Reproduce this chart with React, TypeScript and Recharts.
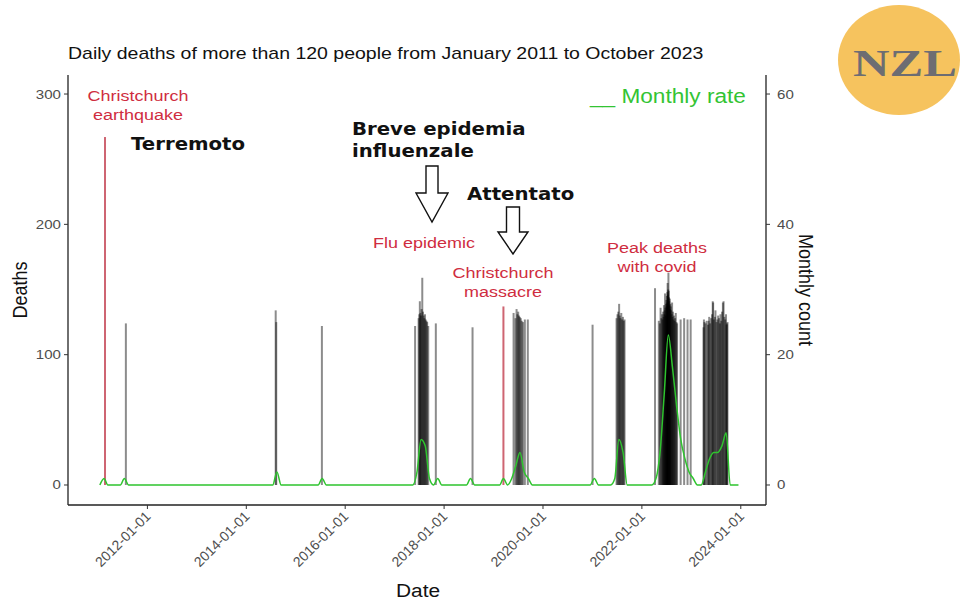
import React from 'react';
import { ComposedChart, Bar, Line, XAxis, YAxis } from 'recharts';

// days with more than 120 deaths: [date, deaths]
const dailySpikes: [string, number][] = [
  ['2011-07-26', 124],
  ['2014-08-06', 134], ['2014-08-10', 125],
  ['2015-07-13', 122],
  ['2017-06-01', 122], ['2017-06-27', 128], ['2017-07-02', 131], ['2017-07-06', 141],
  ['2017-07-10', 132], ['2017-07-14', 130], ['2017-07-19', 135], ['2017-07-24', 159],
  ['2017-07-29', 133], ['2017-08-03', 130], ['2017-08-08', 128], ['2017-08-13', 131],
  ['2017-08-18', 127], ['2017-08-24', 126], ['2017-08-29', 125], ['2017-09-06', 122],
  ['2017-11-01', 124],
  ['2018-07-30', 121],
  ['2019-05-29', 132], ['2019-06-12', 128], ['2019-06-20', 135], ['2019-06-26', 131],
  ['2019-07-02', 133], ['2019-07-08', 130], ['2019-07-14', 129], ['2019-07-21', 128],
  ['2019-07-28', 126], ['2019-08-06', 125], ['2019-08-20', 127], ['2019-09-11', 127],
  ['2021-01-02', 123],
  ['2021-06-28', 128], ['2021-07-05', 131], ['2021-07-11', 133], ['2021-07-17', 139],
  ['2021-07-22', 130], ['2021-07-27', 128], ['2021-08-02', 132], ['2021-08-08', 127],
  ['2021-08-14', 129], ['2021-08-20', 126], ['2021-08-26', 127],
  ['2022-04-08', 151], ['2022-05-06', 126], ['2022-05-14', 124], ['2022-05-19', 136],
  ['2022-05-25', 128], ['2022-05-30', 131], ['2022-06-03', 127], ['2022-06-07', 133],
  ['2022-06-10', 129], ['2022-06-13', 138], ['2022-06-16', 131], ['2022-06-19', 134],
  ['2022-06-21', 147], ['2022-06-24', 136], ['2022-06-27', 130], ['2022-06-29', 139],
  ['2022-07-01', 142], ['2022-07-03', 137], ['2022-07-05', 145], ['2022-07-07', 140],
  ['2022-07-08', 148], ['2022-07-10', 155], ['2022-07-12', 146], ['2022-07-14', 150],
  ['2022-07-16', 163], ['2022-07-18', 149], ['2022-07-20', 144], ['2022-07-22', 141],
  ['2022-07-24', 138], ['2022-07-26', 143], ['2022-07-28', 135], ['2022-07-30', 139],
  ['2022-08-02', 137], ['2022-08-05', 134], ['2022-08-08', 131], ['2022-08-12', 140],
  ['2022-08-15', 129], ['2022-08-18', 133], ['2022-08-22', 127], ['2022-08-26', 130],
  ['2022-08-30', 126], ['2022-09-03', 128], ['2022-09-08', 132], ['2022-09-13', 125],
  ['2022-09-18', 124], ['2022-10-14', 127], ['2022-11-09', 128], ['2022-12-04', 127],
  ['2022-12-27', 127],
  ['2023-04-01', 121], ['2023-04-04', 127], ['2023-04-08', 125], ['2023-04-16', 124],
  ['2023-04-24', 126], ['2023-05-04', 123], ['2023-05-09', 126], ['2023-05-13', 129],
  ['2023-05-20', 124], ['2023-05-27', 128], ['2023-06-03', 131], ['2023-06-08', 141],
  ['2023-06-11', 140], ['2023-06-16', 127], ['2023-06-24', 129], ['2023-06-28', 134],
  ['2023-07-06', 125], ['2023-07-12', 127], ['2023-07-18', 130], ['2023-07-24', 128],
  ['2023-07-31', 124], ['2023-08-04', 131], ['2023-08-10', 126], ['2023-08-16', 133],
  ['2023-08-22', 140], ['2023-08-27', 141], ['2023-09-02', 129], ['2023-09-08', 127],
  ['2023-09-14', 131], ['2023-09-18', 123], ['2023-09-21', 124], ['2023-09-25', 125],
];

// marked events (red)
const eventDays = ['2011-02-22', '2019-03-15'];
const eventDeaths = [267, 137];

// monthly count of such days, Jan 2011 .. Dec 2023
const monthlyFirstYear = 2011;
const monthlyCount = [
  0, 1, 0, 0, 0, 0, 1, 0, 0, 0, 0, 0, // 2011
  0, 0, 0, 0, 0, 0, 0, 0, 0, 0, 0, 0, // 2012
  0, 0, 0, 0, 0, 0, 0, 0, 0, 0, 0, 0, // 2013
  0, 0, 0, 0, 0, 0, 0, 2, 0, 0, 0, 0, // 2014
  0, 0, 0, 0, 0, 0, 1, 0, 0, 0, 0, 0, // 2015
  0, 0, 0, 0, 0, 0, 0, 0, 0, 0, 0, 0, // 2016
  0, 0, 0, 0, 0, 2, 7, 6, 1, 0, 1, 0, // 2017
  0, 0, 0, 0, 0, 0, 1, 0, 0, 0, 0, 0, // 2018
  0, 0, 1, 0, 1, 3, 5, 2, 1, 0, 0, 0, // 2019
  0, 0, 0, 0, 0, 0, 0, 0, 0, 0, 0, 0, // 2020
  1, 0, 0, 0, 0, 1, 7, 5, 0, 0, 0, 0, // 2021
  0, 0, 0, 1, 5, 14, 23, 18, 12, 7, 4, 2, // 2022
  1, 0, 0, 2, 4, 5, 5, 6, 8, 0, 0, 0, // 2023
];

const xTicks = [2012, 2014, 2016, 2018, 2020, 2022, 2024];
const deathTicks = [0, 100, 200, 300];
const countTicks = [0, 20, 40, 60];

const SANS = '"Liberation Sans", Arial, sans-serif';
const BOLD = '"DejaVu Sans", Verdana, sans-serif';
const RED = '#cf2d40';
const GREEN = '#2ec42e';
const SX = 1.16; // the source frame is stretched horizontally

function toYear(iso: string) {
  const [y, m, d] = iso.split('-').map(Number);
  const start = Date.UTC(y, 0, 1);
  const end = Date.UTC(y + 1, 0, 1);
  return y + (Date.UTC(y, m - 1, d) - start) / (end - start);
}

const dailyData = [
  ...dailySpikes.map(([d, v]) => ({ t: toYear(d), deaths: v, event: false })),
  ...eventDays.map((d, i) => ({ t: toYear(d), deaths: eventDeaths[i], event: true })),
].sort((a, b) => a.t - b.t);

const monthlyData = monthlyCount.map((v, i) => {
  const yr = monthlyFirstYear + Math.floor(i / 12);
  const mo = String((i % 12) + 1).padStart(2, '0');
  return { t: toYear(`${yr}-${mo}-15`), rate: v };
});

function ST({ x, y, size, children, anchor = 'start', fill = '#111', weight = 'normal', family = SANS, rotate = 0 }: any) {
  return (
    <text
      transform={`translate(${x},${y}) scale(${SX},1)${rotate ? ` rotate(${rotate})` : ''}`}
      fontSize={size}
      textAnchor={anchor}
      fill={fill}
      fontWeight={weight}
      fontFamily={family}
    >
      {children}
    </text>
  );
}

function Spike(props: any) {
  const { x, y, width, height, payload } = props;
  if (!payload || payload.deaths == null || !isFinite(height) || !isFinite(x)) return null;
  const cx = x + (width || 0) / 2;
  return (
    <rect
      x={cx - 1}
      y={y}
      width={2}
      height={height}
      fill={payload.event ? '#bb2a3c' : '#000'}
      fillOpacity={payload.event ? 0.72 : 0.45}
    />
  );
}

function XTick({ x, y, payload }: any) {
  return (
    <g transform={`translate(${x - 3},${y - 1})`}>
      <text transform="rotate(-45)" textAnchor="end" dy="0.72em" fontSize={14} fill="#4d4d4d" fontFamily={SANS}>
        {`${payload.value}-01-01`}
      </text>
    </g>
  );
}

function LeftTick({ x, y, payload }: any) {
  return <ST x={x} y={y + 4.5} size={13} anchor="end" fill="#4d4d4d">{payload.value}</ST>;
}

function RightTick({ x, y, payload }: any) {
  return <ST x={x} y={y + 4.5} size={13} anchor="start" fill="#4d4d4d">{payload.value}</ST>;
}

function DownArrow({ cx, top, neck, tip, shaft, head }: any) {
  const pts = [
    [cx - shaft, top], [cx + shaft, top], [cx + shaft, neck], [cx + head, neck],
    [cx, tip], [cx - head, neck], [cx - shaft, neck],
  ].map((p) => p.join(',')).join(' ');
  return <polygon points={pts} fill="#fff" stroke="#111" strokeWidth={1.4} />;
}

export default function App() {
  return (
    <div style={{ position: 'absolute', left: 0, top: 0, width: 961, height: 600, background: '#fff' }}>
      <ComposedChart
        width={961}
        height={600}
        data={dailyData}
        margin={{ top: 75, right: 155, bottom: 35, left: 28 }}
      >
        <XAxis
          dataKey="t"
          type="number"
          domain={[2010.394, 2024.51]}
          allowDataOverflow
          ticks={xTicks}
          interval={0}
          height={60}
          tickSize={4}
          tickMargin={2}
          axisLine={{ stroke: '#222', strokeWidth: 1.3 }}
          tickLine={{ stroke: '#333' }}
          tick={<XTick />}
        />
        <YAxis
          yAxisId="left"
          type="number"
          domain={[-15.35, 314.6]}
          allowDataOverflow
          ticks={deathTicks}
          interval={0}
          width={40}
          tickSize={4}
          tickMargin={3}
          axisLine={{ stroke: '#222', strokeWidth: 1.3 }}
          tickLine={{ stroke: '#333' }}
          tick={<LeftTick />}
        />
        <YAxis
          yAxisId="right"
          orientation="right"
          type="number"
          domain={[-3.07, 62.92]}
          allowDataOverflow
          ticks={countTicks}
          interval={0}
          width={40}
          tickSize={4}
          tickMargin={7}
          axisLine={{ stroke: '#222', strokeWidth: 1.3 }}
          tickLine={{ stroke: '#333' }}
          tick={<RightTick />}
        />
        <Bar yAxisId="left" dataKey="deaths" barSize={2} shape={<Spike />} isAnimationActive={false} />
        <Line
          yAxisId="right"
          data={monthlyData}
          dataKey="rate"
          type="monotone"
          stroke={GREEN}
          strokeWidth={1.5}
          dot={false}
          isAnimationActive={false}
        />
      </ComposedChart>

      <svg width={961} height={600} style={{ position: 'absolute', left: 0, top: 0, pointerEvents: 'none' }}>
        <ST x={68} y={59} size={16.8}>Daily deaths of more than 120 people from January 2011 to October 2023</ST>
        <ST x={590} y={103} size={19.5} fill="#33c433">__ Monthly rate</ST>

        <ST x={27} y={290} size={18} anchor="middle" rotate={-90}>Deaths</ST>
        <ST x={799} y={290} size={18} anchor="middle" rotate={90}>Monthly count</ST>
        <ST x={418} y={597} size={18} anchor="middle">Date</ST>

        <ST x={138} y={101} size={15.5} anchor="middle" fill={RED}>Christchurch</ST>
        <ST x={138} y={120} size={15.5} anchor="middle" fill={RED}>earthquake</ST>
        <ST x={424} y={248} size={15.5} anchor="middle" fill={RED}>Flu epidemic</ST>
        <ST x={503} y={278} size={15.5} anchor="middle" fill={RED}>Christchurch</ST>
        <ST x={503} y={297} size={15.5} anchor="middle" fill={RED}>massacre</ST>
        <ST x={657} y={253} size={15.5} anchor="middle" fill={RED}>Peak deaths</ST>
        <ST x={657} y={272} size={15.5} anchor="middle" fill={RED}>with covid</ST>

        <ST x={131} y={150} size={17} weight="bold" family={BOLD}>Terremoto</ST>
        <ST x={352} y={135} size={17} weight="bold" family={BOLD}>Breve epidemia</ST>
        <ST x={352} y={157} size={17} weight="bold" family={BOLD}>influenzale</ST>
        <ST x={467} y={200} size={17} weight="bold" family={BOLD}>Attentato</ST>

        <DownArrow cx={432} top={166} neck={193} tip={222} shaft={6} head={16} />
        <DownArrow cx={513} top={207} neck={232} tip={254} shaft={6.5} head={15} />

        <ellipse cx={899} cy={60} rx={61} ry={55} fill="#f6c35e" />
        <text
          x={905}
          y={76}
          fontSize={38}
          fontWeight="bold"
          fontFamily='"Liberation Serif", "DejaVu Serif", serif'
          fill="#6d6d72"
          textAnchor="middle"
          textLength={104}
          lengthAdjust="spacingAndGlyphs"
        >
          NZL
        </text>
      </svg>
    </div>
  );
}
